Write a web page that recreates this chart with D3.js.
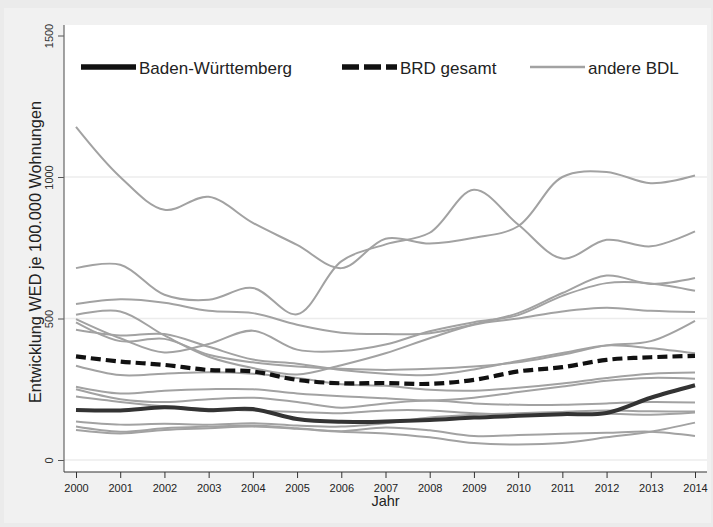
<!DOCTYPE html>
<html>
<head>
<meta charset="utf-8">
<script src="https://cdn.jsdelivr.net/npm/d3@7"></script>
<style>
  html, body { margin: 0; padding: 0; background: #ececec; }
  svg { display: block; font-family: "Liberation Sans", Arial, sans-serif; }
</style>
</head>
<body>
<svg id="chart" width="713" height="527"></svg>
<script>
// Wohnungseinbruchdiebstahl (WED) je 100.000 Wohnungen, 2000-2014
const years = [2000, 2001, 2002, 2003, 2004, 2005, 2006, 2007, 2008, 2009, 2010, 2011, 2012, 2013, 2014];

const badenWuerttemberg = [177, 175, 186, 176, 180, 145, 135, 136, 141, 150, 156, 162, 166, 220, 264];
const brdGesamt         = [366, 348, 336, 318, 313, 283, 271, 272, 269, 283, 313, 328, 354, 363, 368];

// andere Bundesländer
const bdl01 = [1177, 1000, 884, 930, 838, 760, 678, 782, 765, 785, 826, 1000, 1018, 978, 1005];
const bdl02 = [678, 690, 584, 566, 608, 515, 702, 762, 803, 955, 832, 712, 778, 755, 808];
const bdl03 = [551, 568, 556, 527, 519, 478, 450, 445, 448, 480, 519, 590, 652, 622, 643];
const bdl04 = [513, 525, 440, 365, 325, 302, 335, 377, 430, 478, 500, 525, 538, 527, 523];
const bdl05 = [498, 430, 380, 410, 457, 390, 385, 408, 455, 487, 512, 580, 625, 624, 598];
const bdl06 = [486, 420, 428, 372, 345, 330, 322, 318, 322, 330, 345, 372, 405, 420, 492];
const bdl07 = [460, 440, 445, 400, 355, 340, 318, 305, 300, 320, 350, 378, 405, 395, 377];
const bdl08 = [333, 300, 305, 310, 305, 290, 268, 262, 248, 245, 255, 270, 290, 305, 309];
const bdl09 = [259, 235, 245, 250, 250, 235, 225, 218, 210, 220, 240, 260, 280, 290, 287];
const bdl10 = [250, 215, 205, 215, 220, 205, 185, 200, 210, 200, 195, 195, 200, 205, 203];
const bdl11 = [224, 205, 190, 180, 175, 170, 165, 175, 175, 165, 160, 160, 163, 160, 168];
const bdl12 = [136, 125, 128, 125, 130, 122, 118, 130, 150, 160, 165, 170, 175, 172, 171];
const bdl13 = [118, 100, 112, 118, 122, 112, 102, 115, 105, 85, 88, 93, 96, 100, 85];
const bdl14 = [106, 94, 106, 112, 118, 110, 100, 94, 80, 60, 55, 60, 80, 100, 132];
const andereBDL = [bdl01, bdl02, bdl03, bdl04, bdl05, bdl06, bdl07, bdl08, bdl09, bdl10, bdl11, bdl12, bdl13, bdl14];

const yTicks = [0, 500, 1000, 1500];
const legendLabels = ["Baden-Württemberg", "BRD gesamt", "andere BDL"];
const yTitle = "Entwicklung WED je 100.000 Wohnungen";
const xTitle = "Jahr";

const svg = d3.select("#chart");
const W = 713, H = 527;
const plot = { left: 64, top: 25, right: 707, bottom: 472 };

const x = d3.scaleLinear().domain([2000, 2014]).range([76, 695]);
const y = d3.scaleLinear().domain([0, 1500]).range([460, 35.5]);

// background: graph region and white plot region
svg.append("rect").attr("width", W).attr("height", H).attr("fill", "#ebebeb");
svg.append("rect").attr("x", 4).attr("y", 8).attr("width", W - 6).attr("height", H - 12).attr("fill", "#f1f1f1");
svg.append("rect")
  .attr("x", plot.left).attr("y", plot.top)
  .attr("width", plot.right - plot.left).attr("height", plot.bottom - plot.top)
  .attr("fill", "#ffffff");

// horizontal grid lines
svg.append("g").selectAll("line")
  .data(yTicks.filter(v => v < 1500))
  .join("line")
  .attr("x1", plot.left).attr("x2", plot.right)
  .attr("y1", d => y(d)).attr("y2", d => y(d))
  .attr("stroke", "#ececec").attr("stroke-width", 1.6);

// series
const line = d3.line()
  .x((d, i) => x(years[i]))
  .y(d => y(d))
  .curve(d3.curveCatmullRom.alpha(0.5));

svg.append("g").selectAll("path")
  .data(andereBDL)
  .join("path")
  .attr("d", line)
  .attr("fill", "none")
  .attr("stroke", "#a2a2a2")
  .attr("stroke-width", 2);

svg.append("path")
  .datum(brdGesamt)
  .attr("d", line)
  .attr("fill", "none")
  .attr("stroke", "#111")
  .attr("stroke-width", 4.2)
  .attr("stroke-dasharray", "10,5");

svg.append("path")
  .datum(badenWuerttemberg)
  .attr("d", line)
  .attr("fill", "none")
  .attr("stroke", "#333")
  .attr("stroke-width", 4);

// axes
const yAxis = svg.append("g")
  .attr("transform", `translate(${plot.left},0)`)
  .call(d3.axisLeft(y).tickValues(yTicks).tickSize(6).tickFormat(d3.format("d")));
yAxis.select(".domain").remove();
yAxis.selectAll(".tick line").attr("stroke", "#555");
yAxis.selectAll(".tick text")
  .attr("transform", "rotate(-90)")
  .attr("x", 0).attr("y", -11).attr("dy", 0)
  .style("text-anchor", "middle")
  .attr("fill", "#333")
  .style("font-size", "11px");

const xAxis = svg.append("g")
  .attr("transform", `translate(0,${plot.bottom})`)
  .call(d3.axisBottom(x).tickValues(years).tickSize(6).tickFormat(d3.format("d")));
xAxis.select(".domain").remove();
xAxis.selectAll(".tick line").attr("stroke", "#333");
xAxis.selectAll(".tick text")
  .attr("y", 20).attr("dy", 0)
  .attr("fill", "#222")
  .style("font-size", "11px");

svg.append("line")
  .attr("x1", plot.left).attr("x2", plot.left)
  .attr("y1", plot.top).attr("y2", plot.bottom)
  .attr("stroke", "#666").attr("stroke-width", 1.2);
svg.append("line")
  .attr("x1", plot.left).attr("x2", plot.right)
  .attr("y1", plot.bottom).attr("y2", plot.bottom)
  .attr("stroke", "#333").attr("stroke-width", 1.2);

// axis titles
svg.append("text")
  .attr("transform", "translate(41,252) rotate(-90)")
  .attr("text-anchor", "middle")
  .attr("fill", "#222")
  .style("font-size", "16.3px")
  .text(yTitle);

svg.append("text")
  .attr("x", (plot.left + plot.right) / 2).attr("y", 506)
  .attr("text-anchor", "middle")
  .attr("fill", "#222")
  .style("font-size", "14.5px")
  .text(xTitle);

// legend
const legendItems = [
  { x: 81, label: legendLabels[0], stroke: "#111", width: 5.5, dash: null },
  { x: 342, label: legendLabels[1], stroke: "#111", width: 5.5, dash: "17,5" },
  { x: 530, label: legendLabels[2], stroke: "#a2a2a2", width: 2.5, dash: null }
];
const legend = svg.append("g").selectAll("g").data(legendItems).join("g");
legend.append("line")
  .attr("x1", d => d.x).attr("x2", d => d.x + 55)
  .attr("y1", 67).attr("y2", 67)
  .attr("stroke", d => d.stroke)
  .attr("stroke-width", d => d.width)
  .attr("stroke-dasharray", d => d.dash);
legend.append("text")
  .attr("x", d => d.x + 58).attr("y", 73.5)
  .attr("fill", "#222")
  .style("font-size", "17px")
  .text(d => d.label);
</script>
</body>
</html>
